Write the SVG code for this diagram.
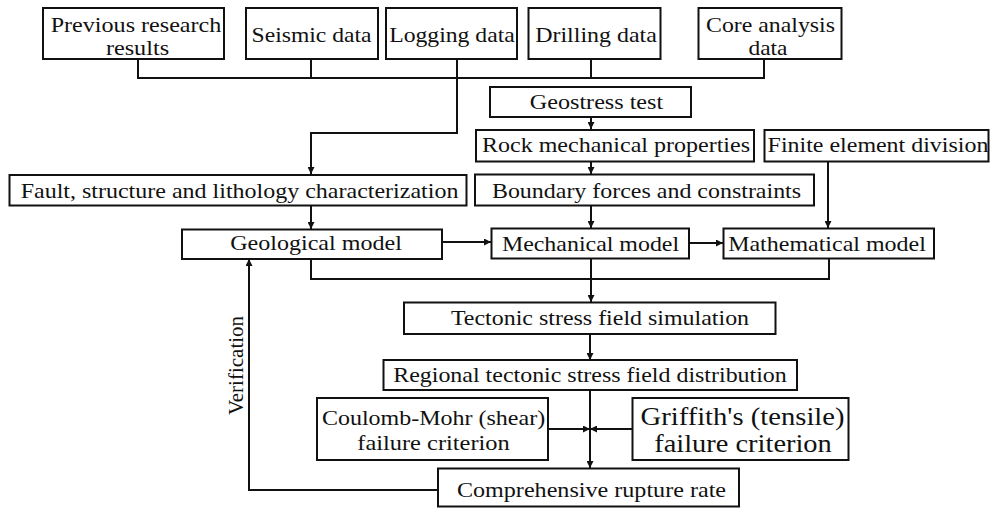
<svg xmlns="http://www.w3.org/2000/svg" width="991" height="508" viewBox="0 0 991 508">
<style>
rect{fill:#fff;stroke:#111;stroke-width:2}
text{font-family:"Liberation Serif",serif;font-size:22px;fill:#111;text-anchor:middle}
.big{font-size:26px}
.ln{fill:none;stroke:#111;stroke-width:2}
</style>
<defs>
<marker id="ah" markerUnits="userSpaceOnUse" markerWidth="8" markerHeight="7" refX="7" refY="3.5" orient="auto">
<path d="M0,0 L7,3.5 L0,7 z" fill="#111"/>
</marker>
</defs>
<rect x="0" y="0" width="991" height="508" style="stroke:none"/>
<g id="connectors">
<path class="ln" d="M138,59 V78 H764 V59 M311,59 V78 M591,59 V78"/>
<path class="ln" d="M457,59 V133 H311 V174" marker-end="url(#ah)"/>
<path class="ln" d="M591,117 V129" marker-end="url(#ah)"/>
<path class="ln" d="M591,162 V174" marker-end="url(#ah)"/>
<path class="ln" d="M311,206 V229" marker-end="url(#ah)"/>
<path class="ln" d="M591,206 V228" marker-end="url(#ah)"/>
<path class="ln" d="M828,162 V228" marker-end="url(#ah)"/>
<path class="ln" d="M442,242 H491" marker-end="url(#ah)"/>
<path class="ln" d="M689,243 H723" marker-end="url(#ah)"/>
<path class="ln" d="M311,259 V279 H829 V258"/>
<path class="ln" d="M591,258 V302" marker-end="url(#ah)"/>
<path class="ln" d="M590,334 V360" marker-end="url(#ah)"/>
<path class="ln" d="M590,390 V468" marker-end="url(#ah)"/>
<path class="ln" d="M548,429 H590" marker-end="url(#ah)"/>
<path class="ln" d="M632,429 H590" marker-end="url(#ah)"/>
<path class="ln" d="M438,490 H249 V259" marker-end="url(#ah)"/>
<text style="font-size:21px" transform="translate(242.5,365.5) rotate(-90)">Verification</text>
</g>
<g id="n_prev"><rect x="43" y="8" width="181" height="51"/><text transform="translate(136,31.5) scale(1.096,1)">Previous research</text><text transform="translate(137.5,55) scale(1.1,1)">results</text></g>
<g id="n_seismic"><rect x="246" y="8" width="132" height="51"/><text transform="translate(311.5,41.5) scale(1.073,1)">Seismic data</text></g>
<g id="n_logging"><rect x="386" y="8" width="131" height="51"/><text transform="translate(452,41.5) scale(1.077,1)">Logging data</text></g>
<g id="n_drilling"><rect x="528.5" y="8" width="132" height="51"/><text transform="translate(596,41.5) scale(1.088,1)">Drilling data</text></g>
<g id="n_core"><rect x="698.5" y="8" width="143" height="51"/><text transform="translate(770.5,31.5) scale(1.083,1)">Core analysis</text><text transform="translate(768,55) scale(1.064,1)">data</text></g>
<g id="n_geostress"><rect x="490" y="87" width="201" height="30"/><text transform="translate(596.5,108.5) scale(1.096,1)">Geostress test</text></g>
<g id="n_rock"><rect x="476" y="130" width="278" height="31.5"/><text transform="translate(616,151.5) scale(1.092,1)">Rock mechanical properties</text></g>
<g id="n_finite"><rect x="764.5" y="130" width="224" height="31.5"/><text transform="translate(878,151.5) scale(1.089,1)">Finite element division</text></g>
<g id="n_fault"><rect x="9.5" y="175" width="457" height="30.5"/><text transform="translate(239.5,198) scale(1.091,1)">Fault, structure and lithology characterization</text></g>
<g id="n_boundary"><rect x="475" y="174.5" width="339" height="31"/><text transform="translate(646.5,197.5) scale(1.089,1)">Boundary forces and constraints</text></g>
<g id="n_geo"><rect x="182" y="229.5" width="260" height="29.5"/><text transform="translate(316,250) scale(1.094,1)">Geological model</text></g>
<g id="n_mech"><rect x="491.5" y="228.5" width="197.5" height="30"/><text transform="translate(590.5,250.5) scale(1.087,1)">Mechanical model</text></g>
<g id="n_math"><rect x="723.5" y="228.5" width="210.5" height="30"/><text transform="translate(827,250.5) scale(1.09,1)">Mathematical model</text></g>
<g id="n_tectonic"><rect x="404" y="302.5" width="371.5" height="31.5"/><text transform="translate(600,325) scale(1.089,1)">Tectonic stress field simulation</text></g>
<g id="n_regional"><rect x="383.5" y="360" width="413.5" height="30"/><text transform="translate(590,381.5) scale(1.089,1)">Regional tectonic stress field distribution</text></g>
<g id="n_coulomb"><rect x="317" y="398" width="231" height="62"/><text transform="translate(433.5,425) scale(1.091,1)">Coulomb-Mohr (shear)</text><text transform="translate(433.5,449.5) scale(1.11,1)">failure criterion</text></g>
<g id="n_griffith"><rect x="632.5" y="398" width="216" height="62"/><text class="big" transform="translate(742.5,425) scale(1.1,1)">Griffith's (tensile)</text><text class="big" transform="translate(743,451.5) scale(1.094,1)">failure criterion</text></g>
<g id="n_comprehensive"><rect x="438" y="468.5" width="301" height="38"/><text transform="translate(591.5,496.5) scale(1.096,1)">Comprehensive rupture rate</text></g>
</svg>
